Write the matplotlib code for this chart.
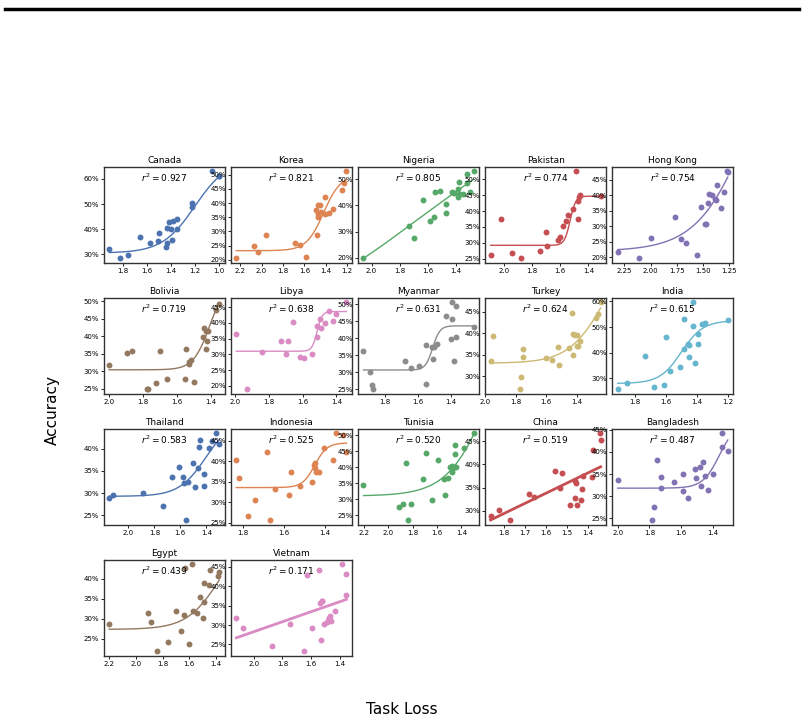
import numpy as np
import matplotlib
matplotlib.use("Agg")
import matplotlib.pyplot as plt
from matplotlib.ticker import PercentFormatter, MultipleLocator
from matplotlib.lines import Line2D

# order of panels, sorted by r^2
countries = ["Canada", "Korea", "Nigeria", "Pakistan", "Hong Kong",
             "Bolivia", "Libya", "Myanmar", "Turkey", "India",
             "Thailand", "Indonesia", "Tunisia", "China", "Bangladesh",
             "Egypt", "Vietnam"]
r2 = ["0.927", "0.821", "0.805", "0.774", "0.754", "0.719", "0.638", "0.631", "0.624",
      "0.615", "0.583", "0.525", "0.520", "0.519", "0.487", "0.439", "0.171"]

# task loss (x) and accuracy in % (y) per country
canada_loss = [1.911, 1.825, 1.752, 1.654, 1.575, 1.498, 1.505, 1.435, 1.44, 1.42, 1.387,
               1.346, 1.435, 1.397, 1.349, 1.394, 1.226, 1.222, 1.057, 1.003, 1.0]
canada_acc = [32.2, 28.4, 29.9, 36.8, 34.5, 38.5, 35.1, 34.3, 32.9, 42.8, 43.4,
              44.1, 40.3, 40.1, 40.1, 35.5, 48.8, 50.5, 63.0, 61.0, 61.1]
korea_loss = [2.236, 2.075, 2.036, 1.957, 1.686, 1.639, 1.582, 1.493, 1.468, 1.457, 1.486,
              1.468, 1.47, 1.443, 1.404, 1.404, 1.371, 1.332, 1.246, 1.229, 1.207]
korea_acc = [20.5, 24.8, 22.8, 28.9, 26.0, 25.2, 21.1, 37.6, 39.2, 39.4, 28.9,
             35.0, 36.2, 36.7, 42.2, 36.2, 36.5, 38.0, 44.5, 47.0, 51.2]
nigeria_loss = [2.057, 1.732, 1.697, 1.635, 1.586, 1.559, 1.554, 1.516, 1.473, 1.473, 1.427,
                1.416, 1.386, 1.381, 1.386, 1.381, 1.351, 1.324, 1.327, 1.305, 1.278]
nigeria_acc = [20.0, 32.1, 27.5, 42.2, 34.1, 35.4, 45.0, 45.6, 40.4, 37.2, 45.0,
               44.6, 46.2, 48.8, 43.3, 44.3, 44.2, 48.4, 51.9, 45.1, 53.0]
pakistan_loss = [2.092, 2.016, 1.938, 1.879, 1.744, 1.699, 1.69, 1.615, 1.604, 1.583, 1.556,
                 1.548, 1.51, 1.491, 1.475, 1.472, 1.462, 1.467, 1.314]
pakistan_acc = [26.2, 37.5, 26.8, 25.1, 27.4, 33.4, 29.0, 30.8, 31.8, 35.4, 37.0,
                38.8, 40.5, 52.5, 37.4, 43.2, 45.2, 44.4, 44.8]
hongkong_loss = [2.315, 2.112, 1.996, 1.772, 1.707, 1.663, 1.562, 1.518, 1.482, 1.467, 1.449,
                 1.442, 1.417, 1.388, 1.38, 1.362, 1.326, 1.301, 1.272, 1.264]
hongkong_acc = [21.6, 19.7, 26.4, 33.0, 26.0, 24.7, 20.7, 36.3, 30.7, 30.7, 37.4,
                40.4, 40.0, 38.9, 38.4, 43.4, 35.9, 41.2, 47.7, 47.4]
bolivia_loss = [2.0, 1.896, 1.865, 1.779, 1.770, 1.722, 1.700, 1.659, 1.555, 1.544, 1.499,
                1.530, 1.526, 1.519, 1.445, 1.440, 1.429, 1.418, 1.422, 1.427, 1.370, 1.350]
bolivia_acc = [31.8, 35.1, 35.8, 25.0, 24.8, 26.7, 35.8, 27.9, 27.9, 36.3, 26.9,
               32.1, 32.7, 33.1, 39.8, 42.3, 41.5, 41.5, 38.7, 36.3, 47.5, 49.2]
libya_loss = [1.995, 1.934, 1.843, 1.727, 1.686, 1.659, 1.7, 1.616, 1.595, 1.548, 1.514,
              1.514, 1.5, 1.493, 1.47, 1.445, 1.423, 1.4, 1.341]
libya_acc = [36.6, 18.9, 30.8, 34.1, 34.1, 40.2, 30.0, 29.3, 28.9, 30.0, 35.4,
             39.0, 41.1, 38.5, 39.9, 43.9, 40.7, 42.8, 46.5]
myanmar_loss = [1.932, 1.890, 1.879, 1.872, 1.677, 1.645, 1.592, 1.553, 1.550, 1.513, 1.502,
                1.511, 1.483, 1.430, 1.393, 1.368, 1.395, 1.400, 1.370, 1.381, 1.261]
myanmar_acc = [36.3, 30.1, 26.2, 24.9, 33.1, 31.2, 31.8, 37.9, 26.6, 37.3, 37.3,
               33.7, 38.2, 46.4, 50.5, 49.5, 45.7, 39.8, 40.2, 33.2, 43.4]
turkey_loss = [1.965, 1.95, 1.762, 1.774, 1.752, 1.752, 1.603, 1.563, 1.523, 1.516, 1.448,
               1.428, 1.423, 1.41, 1.425, 1.398, 1.398, 1.388, 1.378, 1.275, 1.262, 1.242]
turkey_acc = [33.5, 39.3, 29.8, 26.9, 36.3, 34.5, 34.2, 33.8, 36.7, 32.5, 36.5,
              44.8, 39.8, 39.5, 34.9, 39.5, 37.1, 37.1, 38.1, 43.5, 44.4, 47.2]
india_loss = [1.913, 1.854, 1.737, 1.676, 1.613, 1.601, 1.575, 1.511, 1.482, 1.482, 1.460,
              1.448, 1.448, 1.423, 1.423, 1.410, 1.394, 1.394, 1.365, 1.349, 1.2]
india_acc = [25.7, 28.1, 38.8, 26.7, 27.5, 46.2, 32.8, 34.6, 41.3, 53.1, 43.3,
             43.0, 38.2, 50.3, 59.6, 36.0, 47.4, 43.3, 51.2, 51.6, 52.8]
thailand_loss = [2.148, 2.118, 1.891, 1.734, 1.663, 1.610, 1.578, 1.569, 1.557, 1.542, 1.504,
                 1.489, 1.462, 1.459, 1.451, 1.418, 1.421, 1.377, 1.356, 1.329, 1.3]
thailand_acc = [28.9, 29.5, 30.0, 27.2, 33.6, 35.8, 33.7, 32.2, 23.9, 32.6, 36.7,
                31.3, 35.6, 40.3, 41.9, 34.2, 31.7, 40.1, 41.6, 43.4, 41.1]
indonesia_loss = [1.834, 1.819, 1.778, 1.742, 1.682, 1.671, 1.645, 1.568, 1.578, 1.520, 1.465,
                  1.454, 1.45, 1.447, 1.445, 1.43, 1.404, 1.363, 1.346, 1.310, 1.295]
indonesia_acc = [40.4, 35.9, 26.6, 30.6, 42.3, 25.6, 33.2, 37.3, 31.9, 34.0, 35.0,
                 39.0, 39.6, 38.4, 37.4, 37.5, 43.3, 40.3, 46.8, 46.3, 42.3]
tunisia_loss = [2.206, 1.916, 1.884, 1.816, 1.853, 1.838, 1.719, 1.691, 1.638, 1.591, 1.531,
                1.544, 1.513, 1.494, 1.481, 1.469, 1.475, 1.453, 1.456, 1.444, 1.381, 1.3]
tunisia_acc = [34.4, 27.6, 28.4, 28.4, 41.3, 23.4, 36.3, 44.5, 29.8, 42.3, 31.2,
               36.3, 36.6, 40.0, 40.2, 39.8, 38.5, 44.1, 46.8, 40.0, 46.0, 50.5]
china_loss = [1.864, 1.822, 1.771, 1.68, 1.658, 1.555, 1.522, 1.533, 1.485, 1.462, 1.456,
              1.46, 1.453, 1.435, 1.431, 1.422, 1.38, 1.376, 1.345, 1.34]
china_acc = [28.8, 30.1, 27.9, 33.7, 32.9, 38.6, 38.2, 34.9, 31.3, 36.5, 36.0,
             32.8, 31.2, 32.3, 34.6, 37.5, 37.3, 43.2, 46.7, 45.2]
bangladesh_loss = [2.0, 1.784, 1.772, 1.753, 1.729, 1.724, 1.647, 1.587, 1.585, 1.556, 1.515,
                   1.505, 1.479, 1.462, 1.477, 1.45, 1.433, 1.4, 1.345, 1.34, 1.306]
bangladesh_acc = [33.6, 24.5, 27.5, 38.1, 34.4, 31.8, 33.2, 35.1, 31.2, 29.5, 36.2,
                  34.2, 36.6, 37.7, 32.4, 34.6, 31.3, 35.0, 41.2, 44.2, 40.2]
egypt_loss = [2.2, 1.906, 1.889, 1.84, 1.760, 1.702, 1.662, 1.639, 1.630, 1.601, 1.581,
              1.573, 1.538, 1.518, 1.492, 1.492, 1.495, 1.452, 1.446, 1.38, 1.374]
egypt_acc = [28.7, 31.5, 29.2, 21.9, 24.2, 32.0, 27.0, 31.1, 42.7, 23.7, 43.6,
             32.0, 31.5, 35.6, 38.9, 34.3, 30.3, 38.5, 42.3, 40.8, 41.7]
vietnam_loss = [2.12, 2.072, 1.875, 1.747, 1.632, 1.651, 1.595, 1.549, 1.541, 1.528, 1.523,
                1.531, 1.509, 1.493, 1.485, 1.477, 1.472, 1.475, 1.464, 1.435, 1.384, 1.357, 1.363]
vietnam_acc = [31.7, 29.3, 24.7, 30.3, 42.9, 23.2, 29.3, 44.2, 35.8, 36.1, 36.2,
               26.1, 30.3, 30.7, 31.0, 31.9, 32.3, 31.7, 31.1, 33.5, 45.6, 43.2, 37.7]

losses = [canada_loss, korea_loss, nigeria_loss, pakistan_loss, hongkong_loss,
          bolivia_loss, libya_loss, myanmar_loss, turkey_loss, india_loss,
          thailand_loss, indonesia_loss, tunisia_loss, china_loss, bangladesh_loss,
          egypt_loss, vietnam_loss]
accs = [canada_acc, korea_acc, nigeria_acc, pakistan_acc, hongkong_acc,
        bolivia_acc, libya_acc, myanmar_acc, turkey_acc, india_acc,
        thailand_acc, indonesia_acc, tunisia_acc, china_acc, bangladesh_acc,
        egypt_acc, vietnam_acc]

# sigmoid fit: acc = lo + (hi - lo) / (1 + exp((loss - x0) / s)); None -> linear fit
fit_lo = [30.5, 23.2, -12.5, 29.2, 22.0, 30.4, 31.0, 30.6, 33.0, 28.0,
          29.3, 33.6, 31.0, None, 31.8, 27.4, None]
fit_hi = [68.0, 50.0, 83.5, 44.7, 102.0, 56.0, 43.6, 43.6, 63.0, 52.5,
          47.0, 44.5, 91.0, None, 46.8, 52.4, None]
fit_x0 = [1.2, 1.42, 1.65, 1.53, 1.05, 1.405, 1.515, 1.51, 1.208, 1.5,
          1.40, 1.45, 1.17, None, 1.358, 1.37, None]
fit_s = [0.136, 0.08, 0.6, 0.02, 0.25, 0.049, 0.015, 0.022, 0.12, 0.07,
         0.105, 0.03, 0.17, None, 0.053, 0.124, None]
# linear fits (China, Vietnam): acc = a + b * loss
lin_a = {"China": 68.9, "Vietnam": 54.2}
lin_b = {"China": -21.95, "Vietnam": -12.97}

# tick spacing per panel
x_step = [0.2, 0.2, 0.2, 0.2, 0.25, 0.2, 0.2, 0.2, 0.2, 0.2,
          0.2, 0.2, 0.2, 0.1, 0.2, 0.2, 0.2]
y_step = [10, 5, 10, 5, 5, 5, 5, 5, 5, 10,
          5, 5, 5, 5, 5, 5, 5]

colors = ["#4C72B0", "#DD8452", "#55A868", "#C44E52", "#8172B3",
          "#937860", "#DA8BC3", "#8C8C8C", "#CCB974", "#64B5CD"]

fig, axes = plt.subplots(4, 5, figsize=(8.04, 7.23), dpi=100)
plt.subplots_adjust(left=0.129, right=0.912, top=0.769, bottom=0.093,
                    wspace=0.05, hspace=0.37)

for i, ax in enumerate(axes.flat):
    if i >= len(countries):
        ax.set_visible(False)
        continue
    c = colors[i % len(colors)]
    x = np.array(losses[i])
    y = np.array(accs[i])
    ax.scatter(x, y, s=18, color=c, zorder=3, linewidths=0)
    xs = np.linspace(x.min(), x.max(), 200)
    if fit_lo[i] is None:
        name = countries[i]
        ax.plot(xs, lin_a[name] + lin_b[name] * xs, color=c, lw=2)
    else:
        ys = fit_lo[i] + (fit_hi[i] - fit_lo[i]) / (1 + np.exp((xs - fit_x0[i]) / fit_s[i]))
        ax.plot(xs, ys, color=c, lw=1)
    ax.invert_xaxis()
    ax.xaxis.set_major_locator(MultipleLocator(x_step[i]))
    ax.yaxis.set_major_locator(MultipleLocator(y_step[i]))
    ax.yaxis.set_major_formatter(PercentFormatter(100, decimals=0))
    ax.tick_params(labelsize=5, length=2, width=0.6, pad=1.5)
    ax.set_title(countries[i], fontsize=6.5, pad=3)
    ax.text(0.5, 0.89, "$r^2 = %s$" % r2[i], transform=ax.transAxes,
            ha="center", va="center", fontsize=6.5)
    for sp in ax.spines.values():
        sp.set_linewidth(1.0)
        sp.set_color("#333333")

fig.text(0.5, 0.018, "Task Loss", ha="center", va="center", fontsize=11)
fig.text(0.065, 0.433, "Accuracy", ha="center", va="center", rotation=90, fontsize=11)
fig.add_artist(Line2D([0.006, 0.994], [0.9876, 0.9876], transform=fig.transFigure,
                      color="black", lw=2.5))

fig.savefig("out.png", dpi=100)
